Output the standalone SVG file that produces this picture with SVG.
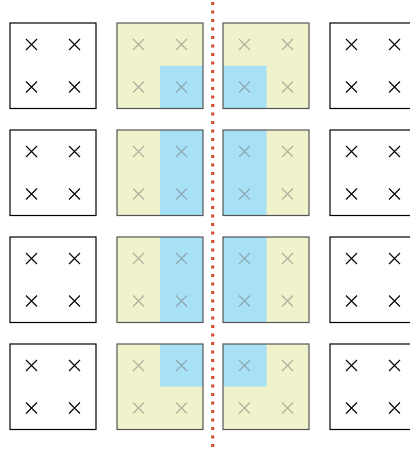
<svg xmlns="http://www.w3.org/2000/svg" width="410" height="451" viewBox="0 0 410 451">
<defs>
<style>
.w{fill:#fff;stroke:#000;stroke-width:1.2}
.c{fill:#f0f2cb}
.b{fill:#a8e0f6}
.cb{fill:none;stroke:#555;stroke-width:1.2}
.x{stroke:#000;stroke-width:1.1;fill:none}
.xg{stroke:#777;stroke-opacity:0.55;stroke-width:1.1;fill:none}
</style>
<g id="xx"><path d="M-5.5,-5.5L5.5,5.5M5.5,-5.5L-5.5,5.5"/></g>
<g id="x4"><use href="#xx" x="21.5" y="21.5"/><use href="#xx" x="64.5" y="21.5"/><use href="#xx" x="21.5" y="64"/><use href="#xx" x="64.5" y="64"/></g>
</defs>
<g id="white-boxes">
<g id="w1"><rect class="w" x="10" y="23" width="86" height="85.5"/><use href="#x4" x="10" y="23" class="x"/></g>
<g id="w2"><rect class="w" x="10" y="130" width="86" height="85.5"/><use href="#x4" x="10" y="130" class="x"/></g>
<g id="w3"><rect class="w" x="10" y="237" width="86" height="85.5"/><use href="#x4" x="10" y="237" class="x"/></g>
<g id="w4"><rect class="w" x="10" y="344" width="86" height="85.5"/><use href="#x4" x="10" y="344" class="x"/></g>
<g id="w5"><rect class="w" x="330" y="23" width="86" height="85.5"/><use href="#x4" x="330" y="23" class="x"/></g>
<g id="w6"><rect class="w" x="330" y="130" width="86" height="85.5"/><use href="#x4" x="330" y="130" class="x"/></g>
<g id="w7"><rect class="w" x="330" y="237" width="86" height="85.5"/><use href="#x4" x="330" y="237" class="x"/></g>
<g id="w8"><rect class="w" x="330" y="344" width="86" height="85.5"/><use href="#x4" x="330" y="344" class="x"/></g>
</g>
<g id="colored-boxes">
<g id="c1"><rect class="c" x="117" y="23" width="86" height="85.5"/><rect class="b" x="160" y="65.7" width="43" height="42.8"/><rect class="cb" x="117" y="23" width="86" height="85.5"/><use href="#x4" x="117" y="23" class="xg"/></g>
<g id="c2"><rect class="c" x="223" y="23" width="86" height="85.5"/><rect class="b" x="223" y="65.7" width="43.5" height="42.8"/><rect class="cb" x="223" y="23" width="86" height="85.5"/><use href="#x4" x="223" y="23" class="xg"/></g>
<g id="c3"><rect class="c" x="117" y="130" width="86" height="85.5"/><rect class="b" x="160" y="130" width="43" height="85.5"/><rect class="cb" x="117" y="130" width="86" height="85.5"/><use href="#x4" x="117" y="130" class="xg"/></g>
<g id="c4"><rect class="c" x="223" y="130" width="86" height="85.5"/><rect class="b" x="223" y="130" width="43.5" height="85.5"/><rect class="cb" x="223" y="130" width="86" height="85.5"/><use href="#x4" x="223" y="130" class="xg"/></g>
<g id="c5"><rect class="c" x="117" y="237" width="86" height="85.5"/><rect class="b" x="160" y="237" width="43" height="85.5"/><rect class="cb" x="117" y="237" width="86" height="85.5"/><use href="#x4" x="117" y="237" class="xg"/></g>
<g id="c6"><rect class="c" x="223" y="237" width="86" height="85.5"/><rect class="b" x="223" y="237" width="43.5" height="85.5"/><rect class="cb" x="223" y="237" width="86" height="85.5"/><use href="#x4" x="223" y="237" class="xg"/></g>
<g id="c7"><rect class="c" x="117" y="344" width="86" height="85.5"/><rect class="b" x="160" y="344" width="43" height="42.7"/><rect class="cb" x="117" y="344" width="86" height="85.5"/><use href="#x4" x="117" y="344" class="xg"/></g>
<g id="c8"><rect class="c" x="223" y="344" width="86" height="85.5"/><rect class="b" x="223" y="344" width="43.5" height="42.7"/><rect class="cb" x="223" y="344" width="86" height="85.5"/><use href="#x4" x="223" y="344" class="xg"/></g>
</g>
<g id="connectors">
<line x1="212.7" y1="2" x2="212.7" y2="451" stroke="#d2492a" stroke-width="3" stroke-dasharray="3 5.5"/>
</g>
</svg>
